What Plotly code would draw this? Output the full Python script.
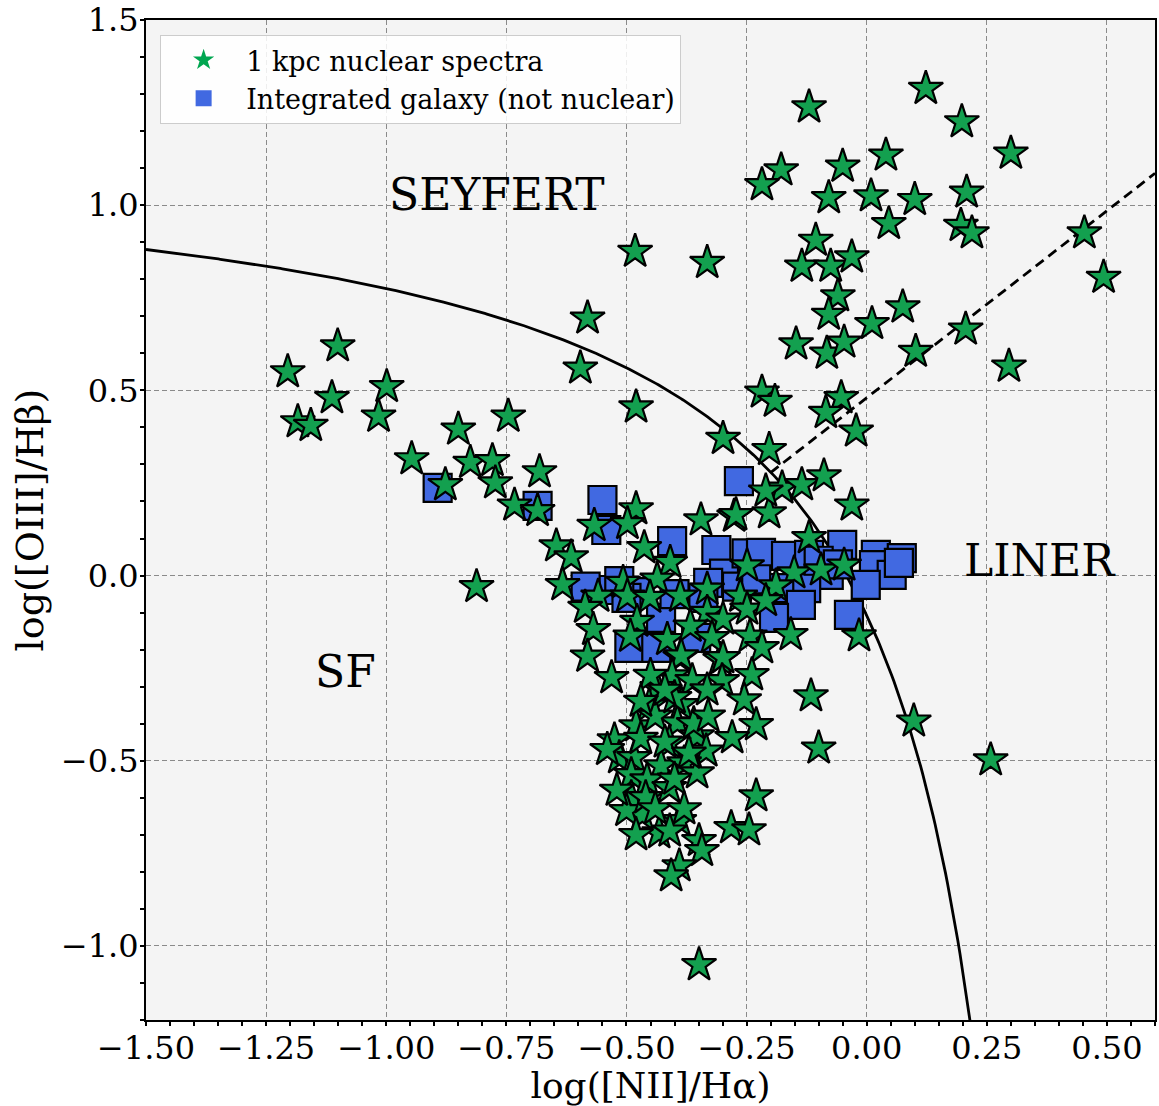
import numpy as np
import plotly.graph_objects as go

# ---- data: 1 kpc nuclear spectra (stars) ----
star_x = [
    -0.120, 0.123, 0.198, 0.300, -0.178, -0.218, -0.050, 0.040, -0.079, 0.009, 0.100, 0.208,
    0.046, 0.196, 0.219, -0.332, -0.106, -0.135, -0.075, -0.031, -0.060, -0.079, 0.011, 0.075,
    -0.147, -0.083, -0.047, 0.453, 0.493, 0.206, 0.102, 0.296, -0.482, -0.581, -0.596, -0.480,
    -0.299, -0.218, -0.191, -0.203, -0.053, -0.085, -0.022,
    -1.101, -1.205, -1.113, -0.999, -1.184, -1.157, -1.016, -0.947, -0.850, -0.746, -0.825,
    -0.779, -0.773, -0.877, -0.681, -0.733, -0.685, -0.646, -0.615, -0.633, -0.812,
    -0.567, -0.480, -0.498, -0.345, -0.276, -0.463,
    -0.409, -0.507, -0.436, -0.559, -0.498, -0.451, -0.388, -0.332, -0.263, -0.586, -0.478,
    -0.332, -0.249, -0.569, -0.492, -0.415, -0.367, -0.299, -0.243, -0.581, -0.388, -0.305,
    -0.322,
    -0.176, -0.135, -0.089, -0.031, -0.272, -0.203, -0.210, -0.120, -0.249, -0.151, -0.095,
    -0.047, -0.189, -0.210, -0.218, -0.158, -0.016,
    0.098, 0.258, -0.349, -0.116, -0.100,
    -0.531, -0.386, -0.299, -0.405, -0.363, -0.301, -0.239, -0.436, -0.332, -0.255, -0.386,
    -0.453, -0.480, -0.394, -0.353, -0.230, -0.280, -0.525, -0.411, -0.334, -0.515, -0.484,
    -0.428, -0.380, -0.353, -0.490, -0.457, -0.411, -0.490, -0.230, -0.467, -0.500, -0.390,
    -0.432, -0.282, -0.245, -0.349, -0.343, -0.390, -0.407,
    -0.540, -0.470, -0.440, -0.400, -0.360, -0.420, -0.460, -0.440, -0.520, -0.400, -0.370,
    -0.330, -0.450, -0.420, -0.470, -0.380, -0.410, -0.480,
]
star_y = [
    1.265, 1.315, 1.225, 1.140, 1.095, 1.055, 1.105, 1.135, 1.020, 1.025, 1.015, 1.035,
    0.950, 0.945, 0.925, 0.845, 0.905, 0.835, 0.835, 0.860, 0.755, 0.705, 0.680, 0.725,
    0.625, 0.600, 0.630, 0.925, 0.805, 0.665, 0.605, 0.565, 0.875, 0.695, 0.560, 0.455,
    0.370, 0.495, 0.470, 0.340, 0.480, 0.440, 0.390,
    0.620, 0.550, 0.480, 0.510, 0.415, 0.405, 0.430, 0.315, 0.395, 0.430, 0.305,
    0.310, 0.250, 0.245, 0.280, 0.190, 0.175, 0.080, 0.050, -0.025, -0.030,
    0.135, 0.180, 0.140, 0.150, 0.160, 0.075,
    0.035, -0.019, -0.010, -0.056, -0.056, -0.059, -0.056, -0.037, -0.056, -0.086, -0.124,
    -0.100, -0.091, -0.146, -0.164, -0.173, -0.137, -0.118, -0.164, -0.218, -0.221, -0.227,
    -0.168,
    0.236, 0.245, 0.269, 0.190, 0.164, 0.169, 0.228, 0.102, 0.026, 0.007, 0.015,
    0.028, -0.028, -0.068, -0.195, -0.160, -0.163,
    -0.393, -0.498, -1.051, -0.325, -0.466,
    -0.276, -0.217, -0.222, -0.271, -0.284, -0.284, -0.268, -0.303, -0.309, -0.336, -0.349,
    -0.352, -0.406, -0.398, -0.433, -0.403, -0.438, -0.444, -0.452, -0.474, -0.492, -0.492,
    -0.514, -0.506, -0.533, -0.538, -0.552, -0.573, -0.600, -0.595, -0.646, -0.635, -0.662,
    -0.695, -0.681, -0.687, -0.716, -0.743, -0.784, -0.811,
    -0.470, -0.440, -0.380, -0.330, -0.400, -0.450, -0.600, -0.630, -0.580, -0.550, -0.480,
    -0.380, -0.270, -0.310, -0.340, -0.630, -0.690, -0.700,
]

# ---- data: integrated galaxy (squares) ----
sq_x = [
    -0.893, -0.685, -0.550, -0.542, -0.266, -0.405, -0.313, -0.297, -0.552, -0.473,
    -0.428, -0.494, -0.438, -0.355, -0.500, -0.400, -0.330, -0.250, -0.220, -0.168,
    -0.120, -0.051, 0.019, 0.073, 0.015, 0.052, -0.002, -0.079, -0.126, -0.182,
    -0.137, -0.193, -0.037, 0.067, -0.270, -0.230, -0.100, -0.060, -0.340, -0.585, -0.515,
]
sq_y = [
    0.237, 0.188, 0.204, 0.123, 0.255, 0.093, 0.069, 0.005, -0.039, -0.045,
    -0.114, -0.195, -0.195, -0.168, -0.060, -0.050, -0.020, 0.060, 0.061, 0.053,
    0.056, 0.083, 0.056, 0.047, 0.028, 0.002, -0.025, 0.002, -0.034, -0.034,
    -0.079, -0.114, -0.106, 0.034, -0.030, -0.010, 0.040, 0.030, -0.060, -0.030, -0.015,
]

x_ticks = [-1.50, -1.25, -1.00, -0.75, -0.50, -0.25, 0.00, 0.25, 0.50]
y_ticks = [-1.0, -0.5, 0.0, 0.5, 1.0, 1.5]

FONT = "DejaVu Serif"
STAR_GREEN = "#13a04f"
SQ_BLUE = "#4169e1"

fig = go.Figure()

# Kewley (2001) maximum starburst line
kx = np.linspace(-1.5, 0.2155, 400)
ky = 0.61 / (kx - 0.47) + 1.19
fig.add_trace(go.Scatter(x=kx, y=ky, mode="lines", line=dict(color="black", width=2.8),
                         showlegend=False, hoverinfo="skip"))

# Seyfert / LINER separation
lx = np.linspace(-0.2, 0.6, 100)
ly = 1.01 * lx + 0.48
fig.add_trace(go.Scatter(x=lx, y=ly, mode="lines",
                         line=dict(color="black", width=2.8, dash="10px,6px"),
                         showlegend=False, hoverinfo="skip"))

fig.add_trace(go.Scatter(x=sq_x, y=sq_y, mode="markers", showlegend=False,
                         marker=dict(symbol="square", size=28, color=SQ_BLUE,
                                     line=dict(color="black", width=2.2))))
fig.add_trace(go.Scatter(x=star_x, y=star_y, mode="markers", showlegend=False,
                         marker=dict(symbol="star", size=26, color=STAR_GREEN,
                                     line=dict(color="black", width=2.2))))

# legend-only entries
fig.add_trace(go.Scatter(x=[None], y=[None], mode="markers", name="1 kpc nuclear spectra",
                         marker=dict(symbol="star", size=30, color="#00a650", line=dict(width=0))))
fig.add_trace(go.Scatter(x=[None], y=[None], mode="markers", name="Integrated galaxy (not nuclear)",
                         marker=dict(symbol="square", size=30, color=SQ_BLUE, line=dict(width=0))))

for txt, ax, ay in [("SEYFERT", -0.77, 1.03), ("LINER", 0.36, 0.04), ("SF", -1.085, -0.26)]:
    fig.add_annotation(x=ax, y=ay, text=txt, showarrow=False,
                       font=dict(family=FONT, size=44, color="black"))

axis_common = dict(
    showline=True, mirror=True, linecolor="black", linewidth=2,
    showgrid=True, gridcolor="#8a8a8a", gridwidth=1, griddash="5px,3px",
    zeroline=False, ticks="outside", ticklen=4, tickwidth=1.5, tickcolor="black",
    tickfont=dict(family=FONT, size=32, color="black"), automargin=False,
    ticklabelstandoff=-5, ticklabeloverflow="allow",
)

fig.update_xaxes(range=[-1.5, 0.6], tickvals=x_ticks, tickformat=".2f",
                 minor=dict(dtick=0.05, tick0=0, ticks="outside", ticklen=4, tickcolor="black",
                            showgrid=False),
                 title=dict(text="log([NII]/Hα)", font=dict(family=FONT, size=36, color="black"),
                            standoff=8),
                 **axis_common)
fig.update_yaxes(range=[-1.2, 1.5], tickvals=y_ticks, tickformat=".1f",
                 minor=dict(dtick=0.1, tick0=0, ticks="outside", ticklen=4, tickcolor="black",
                            showgrid=False),
                 title=dict(text="log([OIII]/Hβ)", font=dict(family=FONT, size=38, color="black"),
                            standoff=6),
                 **axis_common)

fig.update_layout(
    width=1159, height=1106,
    margin=dict(l=146, r=4, t=20, b=86, autoexpand=False),
    paper_bgcolor="white", plot_bgcolor="#f4f4f4",
    font=dict(family=FONT, color="black"),
    legend=dict(x=0.014, y=0.985, xanchor="left", yanchor="top",
                bgcolor="rgba(255,255,255,0.85)", bordercolor="#cccccc", borderwidth=1,
                font=dict(family=FONT, size=27, color="black"), itemwidth=75),
    showlegend=True,
)

fig.write_html("out.html", config={"displayModeBar": False},
               post_script="document.body.style.margin='0';")
